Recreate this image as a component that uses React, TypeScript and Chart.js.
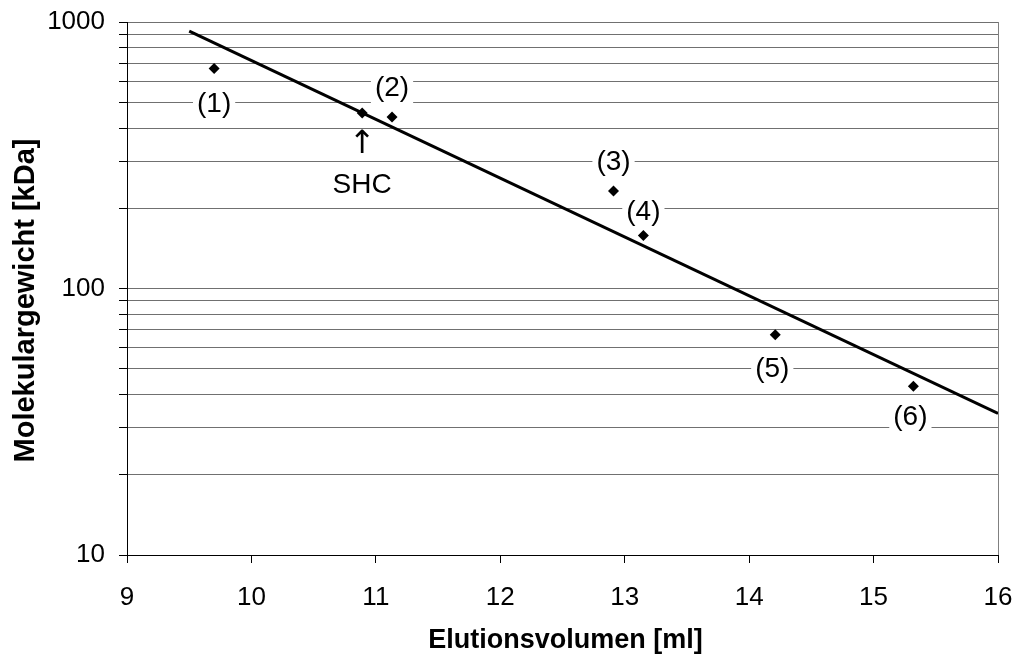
import React, { useEffect, useRef } from "react";
import { Chart, registerables } from "chart.js";

Chart.register(...registerables);

// Calibration standards: elution volume [ml] and molecular weight [kDa]
const standardVolumes = [9.7, 11.13, 12.91, 13.15, 14.21, 15.32];
const standardMasses = [669, 440, 232, 158, 67, 43];
const standardLabels = ["(1)", "(2)", "(3)", "(4)", "(5)", "(6)"];

// Sample protein
const sampleVolume = [10.89];
const sampleMass = [456];
const sampleLabel = "SHC";

// Regression line endpoints
const fitVolumes = [9.5, 16];
const fitMasses = [925, 34];

// Axis ticks and titles
const xTicks = [9, 10, 11, 12, 13, 14, 15, 16];
const yTicks = [10, 20, 30, 40, 50, 60, 70, 80, 90, 100, 200, 300, 400, 500, 600, 700, 800, 900, 1000];
const yLabelled = [10, 100, 1000];
const xTitle = "Elutionsvolumen [ml]";
const yTitle = "Molekulargewicht [kDa]";

const FONT = "'Liberation Sans', Arial, sans-serif";

// Offsets of the point annotations relative to their markers (px)
const labelOffsets: [number, number][] = [
  [0, 36],
  [0, -29],
  [0, -29],
  [0, -23],
  [-3, 34],
  [-3, 31],
];

const annotationPlugin = {
  id: "annotations",
  afterDatasetsDraw(chart: any) {
    const { ctx, scales, chartArea } = chart;
    const xs = scales.x;
    const ys = scales.y;
    ctx.save();
    // right frame line
    ctx.strokeStyle = "#808080";
    ctx.lineWidth = 1;
    ctx.beginPath();
    ctx.moveTo(Math.round(chartArea.right) + 0.5, chartArea.top);
    ctx.lineTo(Math.round(chartArea.right) + 0.5, chartArea.bottom);
    ctx.stroke();

    ctx.font = `28px ${FONT}`;
    ctx.textAlign = "center";
    ctx.textBaseline = "middle";
    standardLabels.forEach((label, i) => {
      const px = xs.getPixelForValue(standardVolumes[i]) + labelOffsets[i][0];
      const py = ys.getPixelForValue(standardMasses[i]) + labelOffsets[i][1];
      const w = ctx.measureText(label).width + 8;
      ctx.fillStyle = "#fff";
      ctx.fillRect(px - w / 2, py - 16, w, 32);
      ctx.fillStyle = "#000";
      ctx.fillText(label, px, py);
    });

    // sample marker annotation: arrow and name
    const sx = xs.getPixelForValue(sampleVolume[0]);
    const sy = ys.getPixelForValue(sampleMass[0]);
    ctx.fillStyle = "#000";
    ctx.font = `32px 'DejaVu Sans', sans-serif`;
    ctx.fillText("\u2191", sx, sy + 32);
    ctx.font = `28px ${FONT}`;
    const tw = ctx.measureText(sampleLabel).width + 8;
    ctx.fillStyle = "#fff";
    ctx.fillRect(sx - tw / 2, sy + 56, tw, 32);
    ctx.fillStyle = "#000";
    ctx.fillText(sampleLabel, sx, sy + 72);

    // axis titles
    ctx.font = `bold 27px ${FONT}`;
    ctx.fillText(xTitle, (chartArea.left + chartArea.right) / 2 + 3, 641);
    ctx.font = `bold 29px ${FONT}`;
    ctx.translate(26, (chartArea.top + chartArea.bottom) / 2 + 12);
    ctx.rotate(-Math.PI / 2);
    ctx.fillText(yTitle, 0, 0);
    ctx.restore();
  },
};

export default function App() {
  const ref = useRef<HTMLCanvasElement>(null);

  useEffect(() => {
    const standards = standardVolumes.map((v, i) => ({ x: v, y: standardMasses[i] }));
    const sample = sampleVolume.map((v, i) => ({ x: v, y: sampleMass[i] }));
    const fit = fitVolumes.map((v, i) => ({ x: v, y: fitMasses[i] }));

    const chart = new Chart(ref.current!, {
      type: "scatter",
      data: {
        datasets: [
          {
            label: "Regression",
            data: fit,
            showLine: true,
            borderColor: "#000",
            borderWidth: 3,
            pointRadius: 0,
            order: 2,
          },
          {
            label: "Standards",
            data: [...standards, ...sample],
            pointStyle: "rectRot",
            pointRadius: 5.5,
            backgroundColor: "#000",
            borderColor: "#000",
            borderWidth: 0,
            order: 1,
          },
        ],
      },
      options: {
        animation: false,
        responsive: false,
        layout: { padding: { left: 0, top: 22, right: 19, bottom: 0 } },
        plugins: { legend: { display: false }, tooltip: { enabled: false } },
        scales: {
          x: {
            type: "linear",
            min: 9,
            max: 16,
            afterBuildTicks: (s: any) => {
              s.ticks = xTicks.map((v) => ({ value: v }));
            },
            afterFit: (s: any) => {
              s.height = 105;
              s.paddingLeft = 0;
              s.paddingRight = 0;
            },
            grid: {
              drawOnChartArea: false,
              drawTicks: true,
              tickLength: 8,
              tickColor: "#000",
            },
            border: { color: "#000", width: 1 },
            ticks: {
              color: "#000",
              padding: 19,
              maxRotation: 0,
              font: { family: FONT, size: 26 },
            },
          },
          y: {
            type: "logarithmic",
            min: 10,
            max: 1000,
            afterBuildTicks: (s: any) => {
              s.ticks = yTicks.map((v) => ({ value: v }));
            },
            afterFit: (s: any) => {
              s.width = 127;
              s.paddingTop = 0;
              s.paddingBottom = 0;
            },
            grid: {
              color: "#707070",
              lineWidth: 1,
              drawTicks: true,
              tickLength: 8,
              tickColor: "#000",
            },
            border: { color: "#000", width: 1 },
            ticks: {
              color: "#000",
              padding: 14,
              autoSkip: false,
              font: { family: FONT, size: 26 },
              callback: (v: any) => (yLabelled.includes(Number(v)) ? String(v) : ""),
            },
          },
        },
      },
      plugins: [annotationPlugin],
    });
    return () => chart.destroy();
  }, []);

  return (
    <div style={{ position: "fixed", left: 0, top: 0, width: 1017, height: 660, background: "#fff" }}>
      <canvas ref={ref} width={1017} height={660} style={{ display: "block" }} />
    </div>
  );
}
